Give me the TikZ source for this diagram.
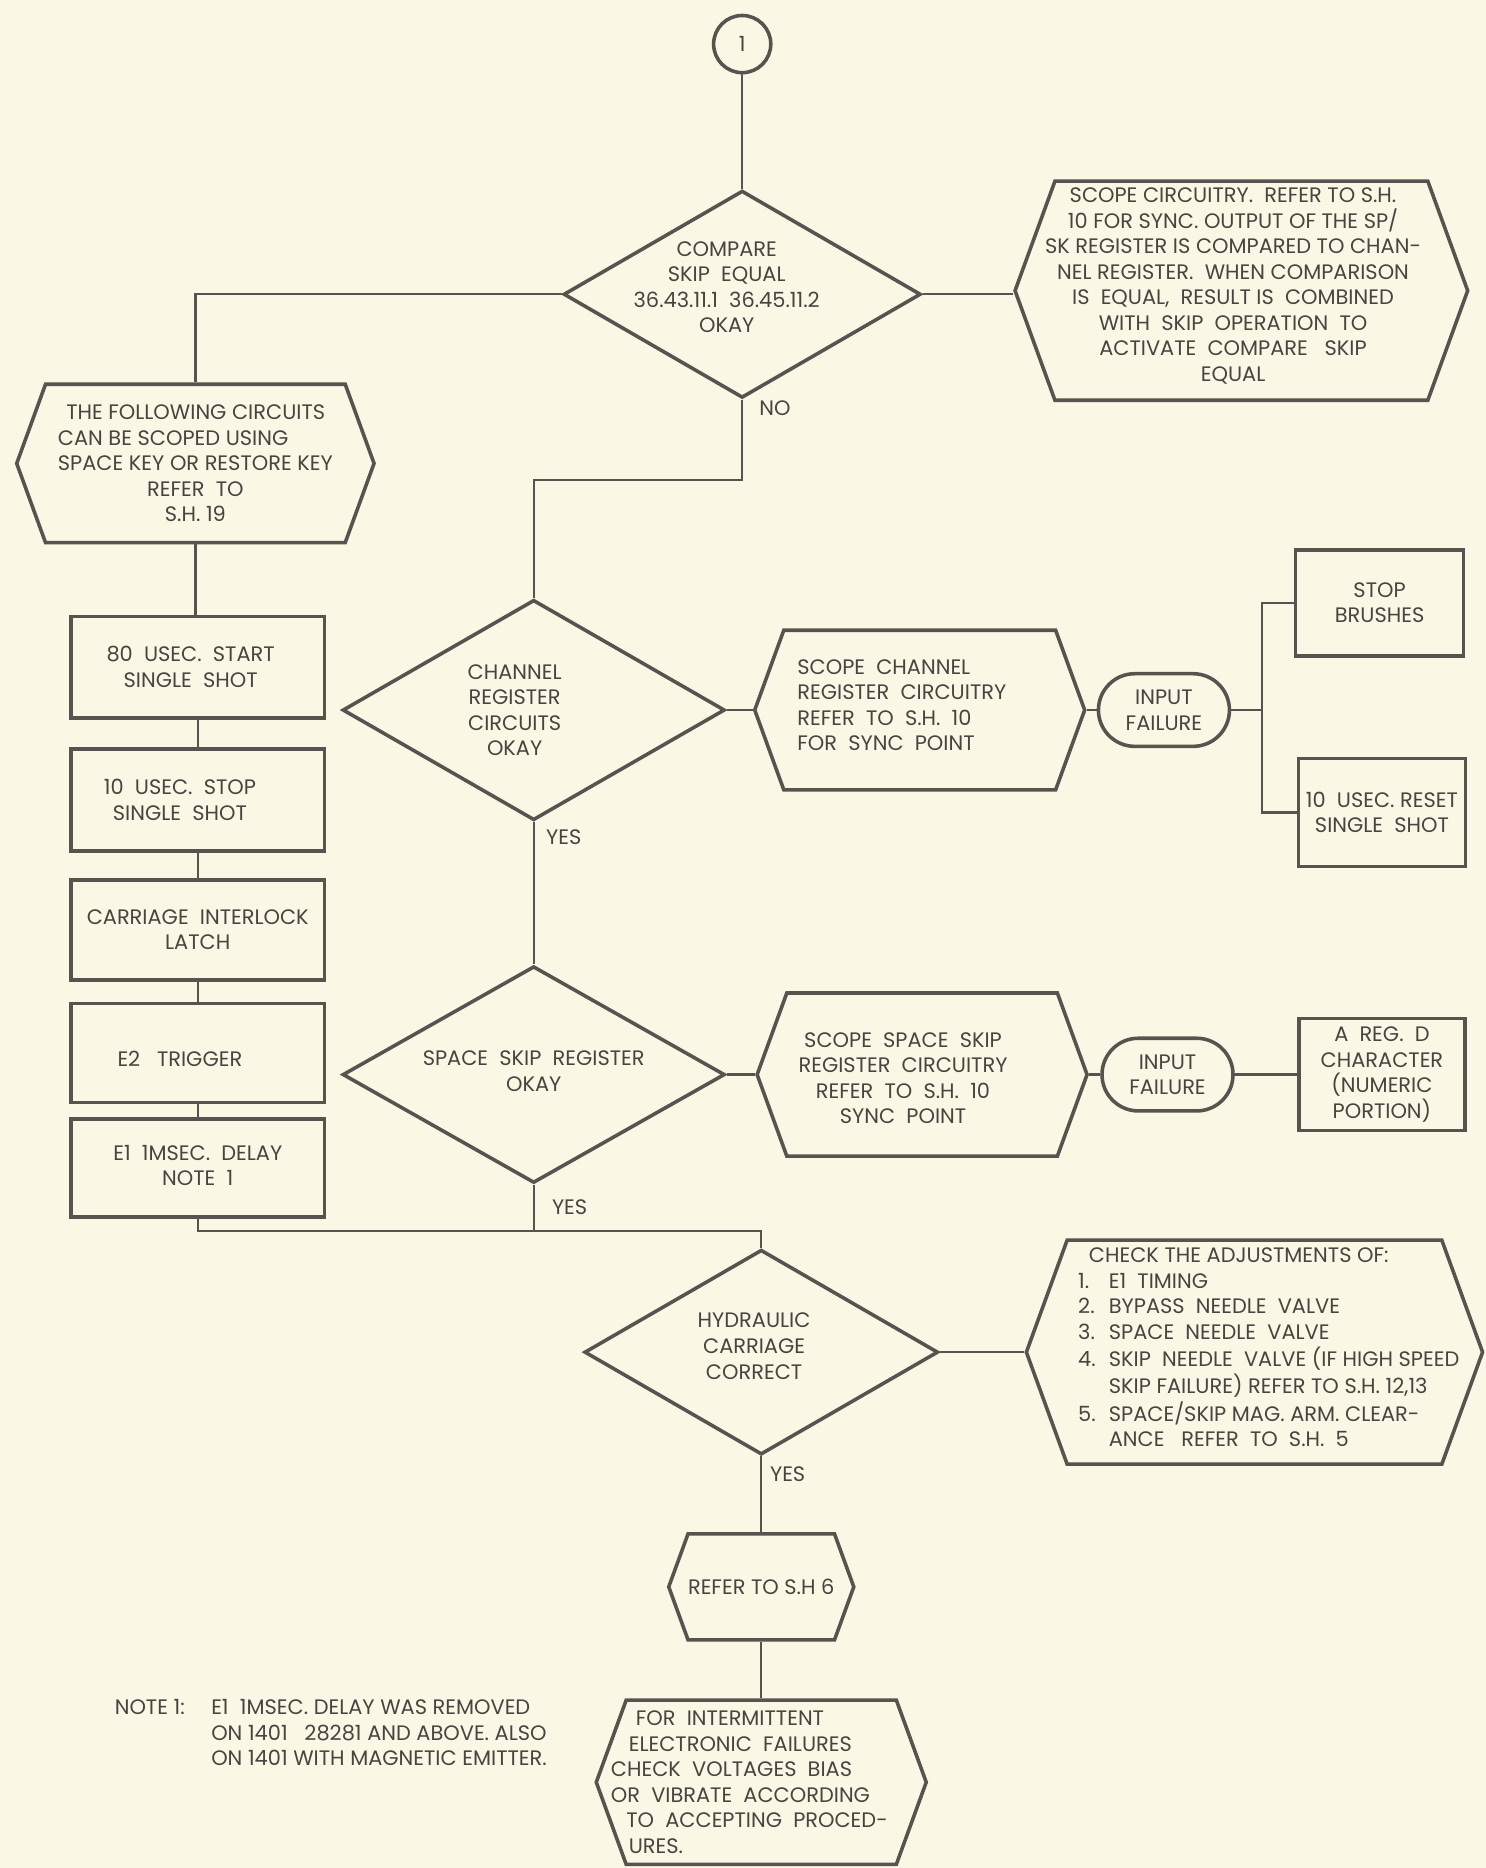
\documentclass[tikz,border=0pt]{standalone}
\usepackage{fontspec}
\setmainfont{Poppins}
\usetikzlibrary{shapes.geometric,shapes.symbols,shapes.misc,positioning,calc}
\definecolor{paper}{RGB}{250,247,229}
\definecolor{ink}{RGB}{88,83,78}
\definecolor{inktext}{RGB}{72,68,64}

\begin{document}
\begin{tikzpicture}[x=0.02cm, y=-0.02cm,
    every node/.style={font=\fontsize{10}{12.2}\selectfont, text=inktext},
    shape line/.style={draw=ink, line width=1.7pt},
    conn/.style={draw=ink, line width=1.1pt},
    decision/.style={shape line, diamond, inner sep=0pt},
    hexa/.style={shape line, signal, signal to=east and west, signal pointer angle=140, inner sep=0pt},
    proc/.style={shape line, rectangle, inner sep=0pt, minimum width=4.26cm},
    term/.style={shape line, rounded rectangle, inner sep=0pt, minimum width=2.2cm, minimum height=1.22cm},
    txt/.style={align=center, inner sep=0pt},
    lbl/.style={anchor=west, inner sep=0pt}
  ]
  \fill[paper] (0,0) rectangle (1247,1568);
  \useasboundingbox (0,0) rectangle (1247,1568);

  % top of the sheet
  \node[shape line, circle, minimum size=0.96cm, inner sep=0pt] (c1) at (623,37) {1};
  \node[decision, minimum width=6cm, minimum height=3.48cm,
    label={[txt, xshift=-0.26cm, yshift=0.12cm]center:{COMPARE\\SKIP~~EQUAL\\36.43.11.1~~36.45.11.2\\OKAY}}] (cmp) at (623,247) {};
  \node[hexa, minimum width=7.6cm, minimum height=3.68cm,
    label={[txt, xshift=-0.14cm, yshift=0.08cm]center:{SCOPE CIRCUITRY.~~REFER TO S.H.\\10 FOR SYNC. OUTPUT OF THE SP/\\SK REGISTER IS COMPARED TO CHAN-\\NEL REGISTER.~~WHEN COMPARISON\\IS~~EQUAL,~~RESULT IS~~COMBINED\\WITH~~SKIP~~OPERATION~~TO\\ACTIVATE~~COMPARE~~~SKIP\\EQUAL}}] (scope) at (1042,244) {};
  \node[hexa, minimum width=6cm, minimum height=2.66cm,
    label={[txt, yshift=-0.04cm]center:{\begin{tabular}{@{}l@{}}\hspace*{0.14cm}THE FOLLOWING CIRCUITS\\CAN BE SCOPED USING\\SPACE KEY OR RESTORE KEY\\\multicolumn{1}{@{}c@{}}{REFER~~TO}\\\multicolumn{1}{@{}c@{}}{S.H.~19}\end{tabular}}}] (follow) at (164,389) {};

  % left column
  \node[proc, minimum height=1.7cm, label={[txt, xshift=-0.12cm]center:{80~~USEC.~~START\\SINGLE~~SHOT}}] (start) at (166,560) {};
  \node[proc, minimum height=1.72cm, below=0.46cm of start, label={[txt, xshift=-0.3cm]center:{10~~USEC.~~STOP\\SINGLE~~SHOT}}] (stop) {};
  \node[proc, minimum height=1.68cm, below=0.42cm of stop, label={[txt]center:{CARRIAGE~~INTERLOCK\\LATCH}}] (latch) {};
  \node[proc, minimum height=1.66cm, below=0.34cm of latch, label={[txt, xshift=-0.3cm, yshift=-0.1cm]center:{E2~~~TRIGGER}}] (trig) {};
  \node[proc, minimum height=1.64cm, below=0.22cm of trig, label={[txt, yshift=0.04cm]center:{E1~~1MSEC.~~DELAY\\NOTE~~1}}] (delay) {};

  % channel register branch
  \node[decision, minimum width=6.42cm, minimum height=3.7cm,
    label={[txt, xshift=-0.32cm]center:{CHANNEL\\REGISTER\\CIRCUITS\\OKAY}}] (chan) at (448,596) {};
  \node[hexa, minimum width=5.54cm, minimum height=2.68cm,
    label={[txt, align=left, xshift=-0.3cm, yshift=0.08cm]center:{SCOPE~~CHANNEL\\REGISTER~~CIRCUITRY\\REFER~~TO~~S.H.~~10\\FOR~~SYNC~~POINT}}] (chscope) at (772,596) {};
  \node[term, align=center] (inp1) at (977,596) {INPUT\\FAILURE};
  \coordinate[right=0.52cm of inp1.east] (j1);
  \node[shape line, minimum width=2.82cm, minimum height=1.78cm, align=center] (brush) at (1158,506) {STOP\\BRUSHES};
  \node[shape line, minimum width=2.8cm, minimum height=1.82cm, align=center] (reset) at (1160,682) {10~~USEC.~RESET\\SINGLE~~SHOT};

  % space skip branch
  \node[decision, minimum width=6.42cm, minimum height=3.64cm,
    label={[txt, yshift=0.06cm]center:{SPACE~~SKIP~~REGISTER\\OKAY}}] (spsk) at (448,902) {};
  \node[hexa, minimum width=5.54cm, minimum height=2.74cm,
    label={[txt, xshift=-0.32cm, yshift=-0.06cm]center:{SCOPE~~SPACE~~SKIP\\REGISTER~~CIRCUITRY\\REFER~~TO~~S.H.~~10\\SYNC~~POINT}}] (spscope) at (774,902) {};
  \node[term, align=center] (inp2) at (980,902) {INPUT\\FAILURE};
  \node[shape line, minimum width=2.78cm, minimum height=1.88cm, align=center] (areg) at (1160,902) {A~~REG.~~D\\CHARACTER\\(NUMERIC\\PORTION)};

  % carriage
  \coordinate (k1) at (448,403);
  \coordinate (k2) at (639,1033);
  \node[decision, minimum width=5.94cm, minimum height=3.44cm,
    label={[txt, xshift=-0.12cm, yshift=0.1cm]center:{HYDRAULIC\\CARRIAGE\\CORRECT}}] (hydr) at (639,1135) {};
  \node[hexa, minimum width=7.66cm, minimum height=3.76cm,
    label={[txt, xshift=0.24cm, yshift=0.04cm]center:{\begin{tabular}{@{}l@{\hspace{0.22cm}}l@{}}
      \multicolumn{2}{@{\hspace{0.18cm}}l@{}}{CHECK THE ADJUSTMENTS OF:}\\
      1. & E1~~TIMING\\
      2. & BYPASS~~NEEDLE~~VALVE\\
      3. & SPACE~~NEEDLE~~VALVE\\
      4. & SKIP~~NEEDLE~~VALVE (IF HIGH SPEED\\
         & SKIP FAILURE) REFER TO S.H. 12,13\\
      5. & SPACE/SKIP MAG. ARM. CLEAR-\\
         & ANCE~~~REFER~~TO~~S.H.~~5
    \end{tabular}}}] (adjust) at (1053,1135) {};
  \node[hexa, minimum width=2.92cm, minimum height=1.78cm] (sh6) at (639,1332) {REFER TO S.H 6};
  \node[hexa, minimum width=5.54cm, minimum height=2.76cm,
    label={[txt, align=left, xshift=-0.2cm]center:{\hspace*{0.42cm}FOR~~INTERMITTENT\\\hspace*{0.3cm}ELECTRONIC~~FAILURES\\CHECK~~VOLTAGES~~BIAS\\OR~~VIBRATE~~ACCORDING\\\hspace*{0.26cm}TO~~ACCEPTING~~PROCED-\\\hspace*{0.3cm}URES.}}] (interm) at (639,1496) {};

  \node[inner sep=0pt, anchor=north west] (note) at (96,1424) {\begin{tabular}{@{}p{1.62cm}@{}l@{}}
    NOTE 1: & E1~~1MSEC. DELAY WAS REMOVED\\
            & ON 1401~~~28281 AND ABOVE. ALSO\\
            & ON 1401 WITH MAGNETIC EMITTER.
  \end{tabular}};

  % connectors
  \draw[conn] (c1.south) -- (cmp.north);
  \draw[conn] (cmp.east) -- (cmp.east -| scope.west);
  \draw[conn] (cmp.west) -| (follow.north);
  \draw[conn] (follow.south) -- (follow.south |- start.north);
  \draw[conn] (start.south) -- (stop.north);
  \draw[conn] (stop.south) -- (latch.north);
  \draw[conn] (latch.south) -- (trig.north);
  \draw[conn] (trig.south) -- (delay.north);
  \draw[conn] (cmp.south) |- (k1) -- (chan.north);
  \node[lbl] (no) at (637,343) {NO};
  \draw[conn] (chan.east) -- (chscope.west);
  \draw[conn] (chscope.east) -- (inp1.west);
  \draw[conn] (inp1.east) -- (j1) |- (brush.west);
  \draw[conn] (j1) |- (reset.west);
  \draw[conn] (chan.south) -- (spsk.north);
  \node[lbl] (yes1) at (458,703) {YES};
  \draw[conn] (spsk.east) -- (spscope.west);
  \draw[conn] (spscope.east) -- (inp2.west);
  \draw[conn] (inp2.east) -- (areg.west);
  \draw[conn] (spsk.south) -- (spsk.south |- k2);
  \node[lbl] (yes2) at (463,1013) {YES};
  \draw[conn] (delay.south) |- (k2) -- (hydr.north);
  \draw[conn] (hydr.east) -- (adjust.west);
  \draw[conn] (hydr.south) -- (sh6.north);
  \node[lbl] (yes3) at (646,1237) {YES};
  \draw[conn] (sh6.south) -- (interm.north);
\end{tikzpicture}
\end{document}
